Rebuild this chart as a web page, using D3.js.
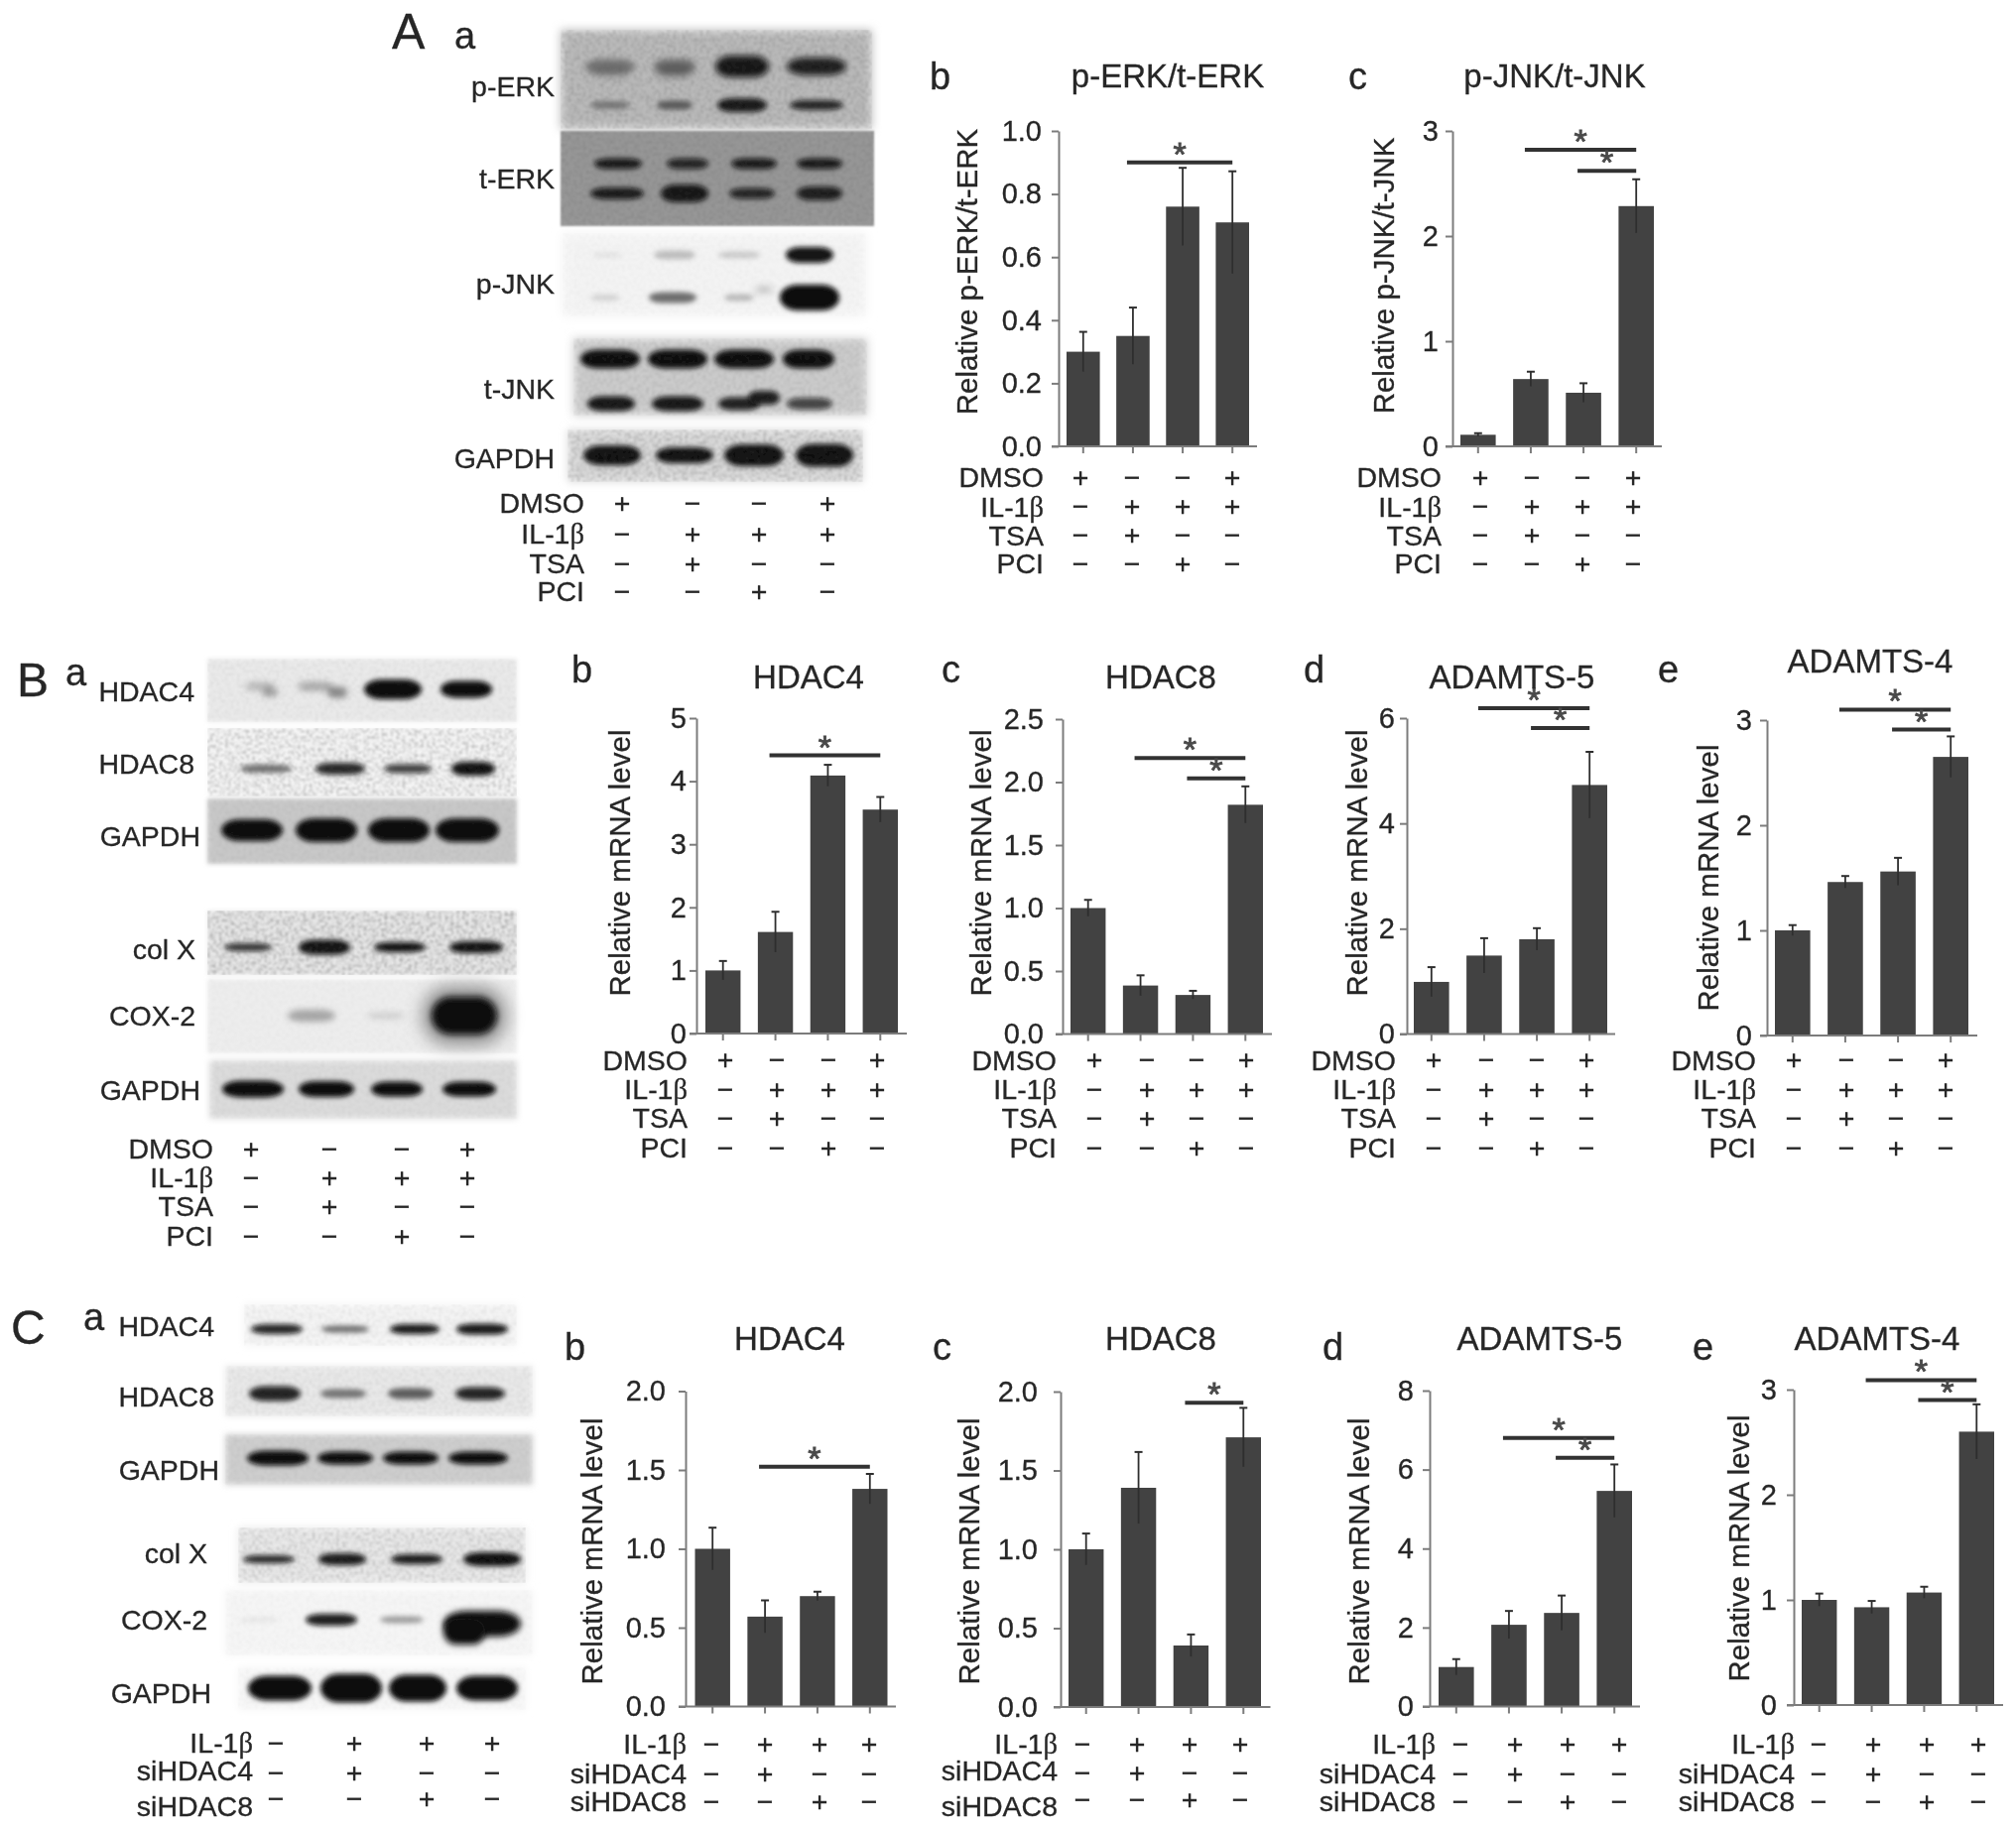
<!DOCTYPE html>
<html><head><meta charset="utf-8">
<script src="https://cdnjs.cloudflare.com/ajax/libs/d3/7.8.5/d3.min.js"></script>
<style>html,body{margin:0;padding:0;background:#fff}svg{display:block}text{font-family:"Liberation Sans",Arial,sans-serif;fill:#262626;stroke:#262626;stroke-width:.3px}</style>
</head><body><div id="chart"></div>
<script>
// ---------- treatment rows ----------
const PLUS='+', MINUS='\u2212';
const rowsDMSO=[
  ['DMSO',[PLUS,MINUS,MINUS,PLUS]],
  ['IL-1\u03b2',[MINUS,PLUS,PLUS,PLUS]],
  ['TSA',[MINUS,PLUS,MINUS,MINUS]],
  ['PCI',[MINUS,MINUS,PLUS,MINUS]]];
const rowsSi=[
  ['IL-1\u03b2',[MINUS,PLUS,PLUS,PLUS]],
  ['siHDAC4',[MINUS,PLUS,MINUS,MINUS]],
  ['siHDAC8',[MINUS,MINUS,PLUS,MINUS]]];

// ---------- bar values (value, upper error end) ----------
const Ab_vals=[0.30,0.35,0.76,0.71],  Ab_tops=[0.363,0.44,0.883,0.872];
const Ac_vals=[0.11,0.64,0.51,2.285], Ac_tops=[0.125,0.71,0.60,2.54];
const Bb_vals=[1.0,1.61,4.09,3.55],   Bb_tops=[1.15,1.93,4.26,3.75];
const Bc_vals=[1.0,0.385,0.31,1.82],  Bc_tops=[1.065,0.466,0.343,1.966];
const Bd_vals=[0.99,1.49,1.80,4.73],  Bd_tops=[1.27,1.82,2.01,5.36];
const Be_vals=[1.0,1.46,1.56,2.65],   Be_tops=[1.05,1.517,1.69,2.845];
const Cb_vals=[1.0,0.57,0.70,1.38],   Cb_tops=[1.134,0.673,0.728,1.475];
const Cc_vals=[1.0,1.39,0.39,1.71],   Cc_tops=[1.10,1.617,0.46,1.897];
const Cd_vals=[1.0,2.07,2.37,5.46],   Cd_tops=[1.2,2.42,2.81,6.13];
const Ce_vals=[1.0,0.93,1.07,2.6],    Ce_tops=[1.06,0.99,1.125,2.86];

// ---------- axis ticks ----------
const ticks02=[0,0.2,0.4,0.6,0.8,1.0], ticks3=[0,1,2,3], ticks5=[0,1,2,3,4,5];
const ticks25=[0,0.5,1.0,1.5,2.0,2.5], ticks6=[0,2,4,6], ticks20=[0,0.5,1.0,1.5,2.0], ticks8=[0,2,4,6,8];

// ---------- significance brackets [from lane, to lane, value] ----------
const Ab_sig=[[1,3,0.90]], Ac_sig=[[1,3,2.82],[2,3,2.62]];
const Bb_sig=[[1,3,4.41]], Bc_sig=[[1,3,2.19],[2,3,2.03]];
const Bd_sig=[[1,3,6.19],[2,3,5.81]], Be_sig=[[1,3,3.10],[2,3,2.91]];
const Cb_sig=[[1,3,1.52]], Cc_sig=[[2,3,1.93]];
const Cd_sig=[[1,3,6.80],[2,3,6.30]], Ce_sig=[[1,3,3.09],[2,3,2.90]];

// ---------- blot band intensities (per lane, top row first) ----------
const gelsA=[
 {label:'p-ERK',lx:559,ly:97,box:[565,30,314,100],bg:'#bcbcbc',noise:.3,edge:5,seed:3,rows:[
  {y:67,h:[13,13,20,16],cx:[615,680,748,823],w:[50,42,54,60],v:[.36,.4,.97,.92],blur:3.2},
  {y:72,h:[10,10],cx:[615,680],w:[40,36],v:[.15,.25],blur:4},
  {y:106,h:[6,7,12,8],cx:[615,680,748,823],w:[40,36,50,54],v:[.36,.52,.95,.88]}]},
 {label:'t-ERK',lx:559,ly:190,box:[565,132,316,96],bg:'#989898',noise:.25,edge:.8,seed:5,rows:[
  {y:165,h:[9,9,9,9],cx:[623,693,760,826],w:[48,42,46,46],v:[.92,.85,.92,.92]},
  {y:195,h:[10,16,9,12],cx:[622,690,758,826],w:[54,48,46,46],v:[.92,.95,.85,.9]}]},
 {label:'p-JNK',lx:559,ly:296,box:[567,235,306,84],bg:'#f4f4f4',noise:.05,edge:6,seed:7,rows:[
  {y:257,h:[4,7,5,14],cx:[612,680,745,816],w:[30,42,42,48],v:[.06,.22,.17,.97]},
  {y:300,h:[4,9,5,24],cx:[610,678,745,816],w:[30,48,30,60],v:[.14,.55,.24,1]},
  {y:292,h:[5],cx:[770],w:[18],v:[.2],blur:3.5}]},
 {label:'t-JNK',lx:559,ly:402,box:[578,341,296,78],bg:'#cdcdcd',noise:.18,edge:5,seed:9,rows:[
  {y:362,h:[17,17,17,17],cx:[615,683,750,815],w:[60,60,60,52],v:[1,1,1,1]},
  {y:407,h:[13,13,11,10],cx:[616,683,745,816],w:[48,52,42,46],v:[.95,.95,.9,.72]},
  {y:401,h:[12],cx:[770],w:[32],v:[.92]}]},
 {label:'GAPDH',lx:559,ly:472,box:[572,433,298,53],bg:'#dcdcdc',noise:.35,edge:4,seed:11,rows:[
  {y:459,h:[18,14,20,21],cx:[617,690,760,831],w:[58,58,60,58],v:[1,1,1,1]}]}
];
const gelsB=[
 {label:'HDAC4',lx:196,ly:707,box:[209,664,312,64],bg:'#ebebeb',noise:.1,edge:2,seed:13,rows:[
  {y:695,h:[18,15],cx:[396,470],w:[58,52],v:[1,1]},
  {y:692,h:[6,7],cx:[262,318],w:[30,36],v:[.22,.28],blur:3.4},
  {y:698,h:[7,9],cx:[272,340],w:[16,20],v:[.3,.42],blur:3.4}]},
 {label:'HDAC8',lx:196,ly:780,box:[209,734,312,69],bg:'#f8f8f8',noise:.38,edge:2,seed:15,rows:[
  {y:775,h:[6,10,7,12],cx:[268,343,411,477],w:[52,50,48,44],v:[.55,.9,.8,1]}]},
 {label:'GAPDH',lx:202,ly:853,box:[209,805,312,66],bg:'#c9c9c9',noise:.1,edge:2,seed:17,rows:[
  {y:837,h:[20,22,22,22],cx:[254,329,402,471],w:[62,62,62,64],v:[1,1,1,1]}]},
 {label:'col X',lx:197,ly:967,box:[209,918,312,65],bg:'#ebebeb',noise:.45,edge:2,seed:19,rows:[
  {y:955,h:[6,13,8,10],cx:[250,327,403,480],w:[48,52,52,54],v:[.85,1,1,1]}]},
 {label:'COX-2',lx:197,ly:1034,box:[209,987,312,75],bg:'#eeeeee',noise:.05,edge:2,seed:21,rows:[
  {y:1024,h:[56],cx:[468],w:[84],v:[.42],blur:9},
  {y:1024,h:[10,5,36],cx:[314,389,468],w:[48,38,66],v:[.3,.12,1],blur:3.4}]},
 {label:'GAPDH',lx:202,ly:1109,box:[211,1069,310,59],bg:'#dcdcdc',noise:.08,edge:3,seed:23,rows:[
  {y:1098,h:[15,14,13,13],cx:[255,329,400,473],w:[62,56,52,54],v:[1,1,1,1]}]}
];
const gelsC=[
 {label:'HDAC4',lx:216,ly:1347,box:[246,1315,275,42],bg:'#f5f5f5',noise:.12,edge:4,seed:25,rows:[
  {y:1340,h:[8,5,8,9],cx:[279,348,418,486],w:[52,48,50,52],v:[.9,.55,.95,.95]}]},
 {label:'HDAC8',lx:216,ly:1418,box:[227,1377,310,51],bg:'#eaeaea',noise:.12,edge:3,seed:27,rows:[
  {y:1405,h:[13,7,9,11],cx:[277,346,414,484],w:[52,46,46,50],v:[.9,.5,.6,.9]}]},
 {label:'GAPDH',lx:221,ly:1492,box:[227,1446,310,51],bg:'#cfcfcf',noise:.1,edge:3,seed:29,rows:[
  {y:1470,h:[13,11,11,11],cx:[280,348,414,482],w:[62,56,56,60],v:[1,1,1,1]}]},
 {label:'col X',lx:209,ly:1576,box:[240,1540,290,56],bg:'#ebebeb',noise:.28,edge:4,seed:31,rows:[
  {y:1572,h:[6,10,8,12],cx:[271,345,420,496],w:[52,48,52,58],v:[.9,.95,.95,1]}]},
 {label:'COX-2',lx:209,ly:1643,box:[227,1603,310,66],bg:'#f6f6f6',noise:.05,edge:4,seed:33,rows:[
  {y:1633,h:[4,10,5],cx:[261,334,405],w:[40,52,44],v:[.05,.92,.36]},
  {y:1637,h:[24],cx:[486],w:[78],v:[1],blur:3},
  {y:1645,h:[24],cx:[468],w:[42],v:[1],blur:3}]},
 {label:'GAPDH',lx:213,ly:1717,box:[240,1681,290,43],bg:'#f7f7f7',noise:.06,edge:4,seed:35,rows:[
  {y:1702,h:[23,27,25,23],cx:[282,354,421,491],w:[64,62,58,62],v:[1,1,1,1]}]}
];

// ---------- blot treatment tables ----------
const tables=[
 {rows:rowsDMSO,right:589,cols:[627,698,765,834],ys:[507,538,568,596]},
 {rows:rowsDMSO,right:215,cols:[253,332,405,471],ys:[1158,1187,1216,1246]},
 {rows:rowsSi,right:255,cols:[278,357,430,496],ys:[1757,1785,1821],marks:[1757,1787,1813]}
];

// ---------- panel letters ----------
const letters=[
 ['A',395,49,50],['a',458,49,38],['b',937,90,38],['c',1359,90,38],
 ['B',17,702,48],['a',66,691,38],['b',576,688,38],['c',949,688,38],['d',1314,688,38],['e',1671,688,38],
 ['C',11,1355,48],['a',84,1341,38],['b',569,1371,38],['c',940,1371,38],['d',1333,1371,38],['e',1706,1371,38]
];

// ---------- chart panels ----------
const colsAbY=[481,510.5,539.5,568], colsBY=[1068.5,1098,1127,1157], colsCY=[1758,1788,1816];
const panels=[
 {title:'p-ERK/t-ERK',tx:1177,ty:88,yl:'Relative p-ERK/t-ERK',ylx:985,yly:274,ax:1067,ax2:1267,b0:1075,b1:1259,top:132,base:450,max:1,ticks:ticks02,fmt:'.1f',tr:1050,vals:Ab_vals,tops:Ab_tops,sig:Ab_sig,rows:rowsDMSO,rr:1052,cols:[1089,1141,1192,1242],ys:colsAbY},
 {title:'p-JNK/t-JNK',tx:1567,ty:88,yl:'Relative p-JNK/t-JNK',ylx:1405,yly:278,ax:1464,ax2:1675,b0:1472,b1:1667,top:132,base:450,max:3,ticks:ticks3,fmt:'d',tr:1450,vals:Ac_vals,tops:Ac_tops,sig:Ac_sig,rows:rowsDMSO,rr:1453,cols:[1492,1544,1595,1646],ys:colsAbY},
 {title:'HDAC4',tx:815,ty:694,yl:'Relative mRNA level',ylx:635,yly:870,ax:702,ax2:914,b0:711,b1:905,top:724,base:1042,max:5,ticks:ticks5,fmt:'d',tr:692,vals:Bb_vals,tops:Bb_tops,sig:Bb_sig,rows:rowsDMSO,rr:693,cols:[731,783,835,884],ys:colsBY},
 {title:'HDAC8',tx:1170,ty:694,yl:'Relative mRNA level',ylx:999,yly:870,ax:1071,ax2:1282,b0:1079,b1:1273,top:725,base:1042.5,max:2.5,ticks:ticks25,fmt:'.1f',tr:1052,vals:Bc_vals,tops:Bc_tops,sig:Bc_sig,rows:rowsDMSO,rr:1065,cols:[1103,1156,1206,1256],ys:colsBY},
 {title:'ADAMTS-5',tx:1524,ty:694,yl:'Relative mRNA level',ylx:1378,yly:870,ax:1418,ax2:1628,b0:1425,b1:1620,top:724,base:1042.5,max:6,ticks:ticks6,fmt:'d',tr:1406,vals:Bd_vals,tops:Bd_tops,sig:Bd_sig,rows:rowsDMSO,rr:1407,cols:[1445,1498,1549,1599],ys:colsBY},
 {title:'ADAMTS-4',tx:1885,ty:678,yl:'Relative mRNA level',ylx:1732,yly:885,ax:1781,ax2:1993,b0:1789,b1:1984,top:726,base:1044,max:3,ticks:ticks3,fmt:'d',tr:1766,vals:Be_vals,tops:Be_tops,sig:Be_sig,rows:rowsDMSO,rr:1770,cols:[1808,1861,1911,1961],ys:colsBY},
 {title:'HDAC4',tx:796,ty:1361,yl:'Relative mRNA level',ylx:607,yly:1564,ax:691,ax2:903,b0:700.5,b1:894.5,top:1402.5,base:1720.5,max:2,ticks:ticks20,fmt:'.1f',tr:671,vals:Cb_vals,tops:Cb_tops,sig:Cb_sig,rows:rowsSi,rr:692,cols:[717,771,826,876],ys:colsCY},
 {title:'HDAC8',tx:1170,ty:1361,yl:'Relative mRNA level',ylx:987,yly:1564,ax:1069,ax2:1280.5,b0:1077,b1:1271,top:1403,base:1721,max:2,ticks:ticks20,fmt:'.1f',tr:1046,vals:Cc_vals,tops:Cc_tops,sig:Cc_sig,rows:rowsSi,rr:1066,cols:[1091,1146,1199,1250],ys:[1758,1785,1821],marks:[1758,1787,1814]},
 {title:'ADAMTS-5',tx:1552,ty:1361,yl:'Relative mRNA level',ylx:1380,yly:1564,ax:1441,ax2:1653,b0:1450,b1:1645,top:1402,base:1720.5,max:8,ticks:ticks8,fmt:'d',tr:1425,vals:Cd_vals,tops:Cd_tops,sig:Cd_sig,rows:rowsSi,rr:1447,cols:[1472,1527,1580,1632],ys:colsCY},
 {title:'ADAMTS-4',tx:1892,ty:1361,yl:'Relative mRNA level',ylx:1763,yly:1561,ax:1808,ax2:2019,b0:1816,b1:2010,top:1401,base:1719,max:3,ticks:ticks3,fmt:'d',tr:1791,vals:Ce_vals,tops:Ce_tops,sig:Ce_sig,rows:rowsSi,rr:1809,cols:[1833,1888,1942,1994],ys:colsCY}
];

// ---------- drawing ----------
const FS=28.5, BAR='#424242', AXIS='#7c7c7c', INK='#262626';
const svg=d3.select('#chart').append('svg').attr('width',2032).attr('height',1845);
const defs=svg.append('defs');
function blur(std){
  const id='b'+String(std).replace('.','_');
  if(defs.select('#'+id).empty()){
    defs.append('filter').attr('id',id).attr('x','-60%').attr('y','-120%').attr('width','220%').attr('height','340%')
      .append('feGaussianBlur').attr('stdDeviation',std);
  }
  return 'url(#'+id+')';
}
function noiseFilter(seed){
  const id='n'+seed, f=defs.append('filter').attr('id',id).attr('x',0).attr('y',0).attr('width','100%').attr('height','100%');
  f.append('feTurbulence').attr('type','fractalNoise').attr('baseFrequency',0.33).attr('numOctaves',2).attr('seed',seed);
  f.append('feColorMatrix').attr('values','0 0 0 0 0.1  0 0 0 0 0.1  0 0 0 0 0.1  2.6 0 0 0 -1.05');
  f.append('feGaussianBlur').attr('stdDeviation',0.9);
  f.append('feComposite').attr('in2','SourceGraphic').attr('operator','in');
  return 'url(#'+id+')';
}
const soft=defs.append('filter').attr('id','soft').attr('filterUnits','userSpaceOnUse')
  .attr('x',0).attr('y',0).attr('width',2032).attr('height',1845);
soft.append('feGaussianBlur').attr('stdDeviation',0.65);
const root=svg.append('g').attr('filter','url(#soft)');
root.append('rect').attr('width',2032).attr('height',1845).attr('fill','#fff');

function betaLabel(sel,s){
  sel.each(function(){
    const t=d3.select(this), m=s.indexOf('\u03b2');
    if(m<0){t.text(s);return;}
    t.append('tspan').text(s.slice(0,m));
    t.append('tspan').style('font-family','"Liberation Serif",serif').text('\u03b2');
  });
}
function drawTable(g,t){
  t.rows.forEach((r,i)=>{
    g.append('text').attr('x',t.right).attr('y',t.ys[i]+10).attr('text-anchor','end').attr('font-size',FS).call(betaLabel,r[0]);
    const my=(t.marks||t.ys)[i];
    g.selectAll(null).data(r[1]).enter().append('text')
      .attr('x',(d,j)=>t.cols[j]).attr('y',my+9.5).attr('text-anchor','middle').attr('font-size',FS).text(d=>d);
  });
}
function drawGel(g,gel){
  const [x,y,w,h]=gel.box, e=g.append('g');
  e.append('rect').attr('x',x).attr('y',y).attr('width',w).attr('height',h).attr('fill',gel.bg).attr('filter',blur(gel.edge));
  gel.rows.forEach(r=>{
    const bands=e.append('g').attr('filter',blur(r.blur||2.6));
    bands.selectAll(null).data(r.v).enter().append('rect')
      .attr('x',(d,i)=>r.cx[i]-r.w[i]/2).attr('y',(d,i)=>r.y-r.h[i]/2-1)
      .attr('width',(d,i)=>r.w[i]).attr('height',(d,i)=>r.h[i]+2)
      .attr('rx',(d,i)=>r.w[i]*0.3).attr('ry',(d,i)=>r.h[i]/2+1)
      .attr('fill','#0a0a0a').attr('fill-opacity',d=>d);
  });
  e.append('rect').attr('x',x).attr('y',y).attr('width',w).attr('height',h).attr('fill','#000')
    .attr('opacity',gel.noise).attr('filter',noiseFilter(gel.seed));
  g.append('text').attr('x',gel.lx).attr('y',gel.ly).attr('text-anchor','end').attr('font-size',FS).text(gel.label);
}
[...gelsA,...gelsB,...gelsC].forEach(g=>drawGel(root.append('g'),g));
tables.forEach(t=>drawTable(root.append('g'),t));
letters.forEach(l=>root.append('text').attr('x',l[1]).attr('y',l[2]).attr('font-size',l[3]).text(l[0]));

panels.forEach(p=>{
  const g=root.append('g');
  const lanes=d3.range(p.vals.length);
  const x=d3.scaleBand().domain(lanes).range([p.b0,p.b1]).paddingInner(0.33).paddingOuter(0);
  const y=d3.scaleLinear().domain([0,p.max]).range([p.base,p.top]);
  g.selectAll('rect.bar').data(p.vals).enter().append('rect').attr('class','bar')
    .attr('x',(d,i)=>x(i)).attr('width',x.bandwidth()).attr('y',d=>y(d)).attr('height',d=>y(0)-y(d)).attr('fill',BAR);
  // error bars
  const cx=i=>x(i)+x.bandwidth()/2;
  g.selectAll('line.err').data(p.tops).enter().append('line').attr('class','err')
    .attr('x1',(d,i)=>cx(i)).attr('x2',(d,i)=>cx(i))
    .attr('y1',d=>y(d)).attr('y2',(d,i)=>y(2*p.vals[i]-d)).attr('stroke','#2f2f2f').attr('stroke-width',1.8);
  g.selectAll('line.cap').data(p.tops).enter().append('line').attr('class','cap')
    .attr('x1',(d,i)=>cx(i)-4).attr('x2',(d,i)=>cx(i)+4).attr('y1',d=>y(d)).attr('y2',d=>y(d))
    .attr('stroke','#2f2f2f').attr('stroke-width',2);
  // axes
  const ya=g.append('g').attr('transform','translate('+p.ax+',0)')
    .call(d3.axisLeft(y).tickValues(p.ticks).tickSize(7).tickSizeOuter(0).tickPadding(p.ax-7-p.tr).tickFormat(d3.format(p.fmt)));
  const xa=g.append('g').attr('transform','translate(0,'+p.base+')')
    .call(d3.axisBottom(x).tickSize(7).tickSizeOuter(0).tickFormat(''));
  xa.select('.domain').remove();
  xa.append('line').attr('x1',p.ax-7).attr('x2',p.ax2).attr('stroke',AXIS).attr('stroke-width',2);
  [ya,xa].forEach(a=>{a.selectAll('.tick line,.domain').attr('stroke',AXIS).attr('stroke-width',2);});
  ya.selectAll('text').attr('font-size',FS+0.5).attr('fill',INK).style('font-family','"Liberation Sans",sans-serif');
  // significance
  p.sig.forEach(s=>{
    const x1=cx(s[0])-6, x2=cx(s[1]);
    g.append('line').attr('x1',x1).attr('x2',x2).attr('y1',y(s[2])).attr('y2',y(s[2])).attr('stroke','#333').attr('stroke-width',4);
    g.append('text').attr('x',(x1+x2)/2).attr('y',y(s[2])+3).attr('text-anchor','middle').attr('font-size',34)
      .style('fill','#4a4a4a').style('stroke','#4a4a4a').style('stroke-width','.9px').text('*');
  });
  // labels
  g.append('text').attr('x',p.tx).attr('y',p.ty).attr('text-anchor','middle').attr('font-size',33).text(p.title);
  g.append('text').attr('transform','translate('+p.ylx+','+p.yly+') rotate(-90)').attr('text-anchor','middle').attr('font-size',29.5).text(p.yl);
  drawTable(g,{rows:p.rows,right:p.rr,cols:p.cols,ys:p.ys,marks:p.marks});
});
</script></body></html>
